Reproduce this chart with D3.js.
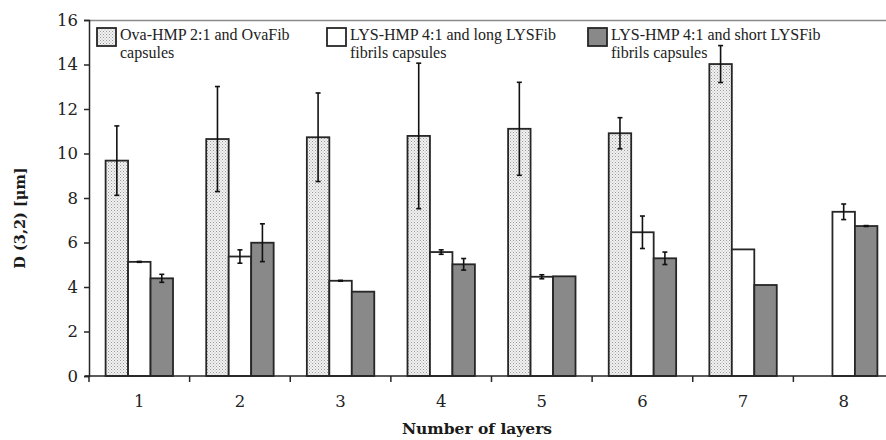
<!DOCTYPE html>
<html>
<head>
<meta charset="utf-8">
<script src="https://cdn.jsdelivr.net/npm/d3@7"></script>
<style>
  html, body { margin: 0; padding: 0; background: #fff; }
  svg { display: block; }
</style>
</head>
<body>
<svg id="chart" width="886" height="440"></svg>
<script>
// ---- Data ----
const categories = ["1", "2", "3", "4", "5", "6", "7", "8"];
const seriesNames = [
  ["Ova-HMP 2:1 and OvaFib", "capsules"],
  ["LYS-HMP 4:1 and long LYSFib", "fibrils capsules"],
  ["LYS-HMP 4:1 and short LYSFib", "fibrils capsules"]
];
const ovaValues   = [9.68, 10.65, 10.73, 10.79, 11.11, 10.91, 14.02, null];
const ovaErrors   = [1.56, 2.36, 1.99, 3.27, 2.09, 0.70, 0.83, null];
const longValues  = [5.13, 5.37, 4.28, 5.57, 4.46, 6.46, 5.69, 7.38];
const longErrors  = [0.02, 0.30, 0.02, 0.10, 0.09, 0.73, 0, 0.35];
const shortValues = [4.39, 5.99, 3.79, 5.02, 4.48, 5.29, 4.09, 6.74];
const shortErrors = [0.18, 0.85, 0, 0.26, 0, 0.28, 0, 0.02];
const yTicks = [0, 2, 4, 6, 8, 10, 12, 14, 16];
const xTitle = "Number of layers";
const yTitle = "D (3,2) [μm]";

const series = [
  { key: "ova", values: ovaValues, errors: ovaErrors },
  { key: "long", values: longValues, errors: longErrors },
  { key: "short", values: shortValues, errors: shortErrors }
];

// ---- Layout ----
const svg = d3.select("#chart");
const mLeft = 89, mRight = 894, mTop = 20, mBottom = 376;
const stroke = "#262626";

const defs = svg.append("defs");
const pat = defs.append("pattern")
  .attr("id", "dots").attr("patternUnits", "userSpaceOnUse")
  .attr("width", 3).attr("height", 3);
pat.append("rect").attr("width", 3).attr("height", 3).attr("fill", "#f2f2f2");
pat.append("rect").attr("x", 0).attr("y", 0).attr("width", 1).attr("height", 1).attr("fill", "#999");
pat.append("rect").attr("x", 1.5).attr("y", 1.5).attr("width", 1).attr("height", 1).attr("fill", "#b0b0b0");

const fills = { ova: "url(#dots)", long: "#ffffff", short: "#898989" };

const x0 = d3.scaleBand().domain(categories).range([mLeft, mRight])
  .paddingInner(0.33).paddingOuter(0.165);
const x1 = d3.scaleBand().domain(series.map(s => s.key)).range([0, x0.bandwidth()]);
const y = d3.scaleLinear().domain([0, 16]).range([mBottom, mTop]);

// top border of plot area
svg.append("line").attr("x1", mLeft).attr("x2", 886).attr("y1", mTop + 0.5).attr("y2", mTop + 0.5)
  .attr("stroke", "#8a8a8a").attr("stroke-width", 1.5);

// ---- Bars ----
const groups = svg.append("g").selectAll("g").data(series).join("g");
groups.each(function(s) {
  const g = d3.select(this);
  const data = categories.map((c, i) => ({ c, v: s.values[i], e: s.errors[i] })).filter(d => d.v != null);
  g.selectAll("rect").data(data).join("rect")
    .attr("x", d => x0(d.c) + x1(s.key))
    .attr("y", d => y(d.v))
    .attr("width", x1.bandwidth())
    .attr("height", d => y(0) - y(d.v))
    .attr("fill", fills[s.key])
    .attr("stroke", stroke).attr("stroke-width", 1.8);
});

// ---- Error bars ----
groups.each(function(s) {
  const g = d3.select(this);
  const data = categories.map((c, i) => ({ c, v: s.values[i], e: s.errors[i] })).filter(d => d.v != null && d.e > 0);
  const cx = d => x0(d.c) + x1(s.key) + x1.bandwidth() / 2;
  g.selectAll("line.v").data(data).join("line").attr("class", "v")
    .attr("x1", cx).attr("x2", cx)
    .attr("y1", d => y(d.v + d.e)).attr("y2", d => y(d.v - d.e))
    .attr("stroke", "#111").attr("stroke-width", 1.6);
  ["t", "b"].forEach(k => {
    g.selectAll("line.c" + k).data(data).join("line").attr("class", "c" + k)
      .attr("x1", d => cx(d) - 2.5).attr("x2", d => cx(d) + 2.5)
      .attr("y1", d => y(k === "t" ? d.v + d.e : d.v - d.e))
      .attr("y2", d => y(k === "t" ? d.v + d.e : d.v - d.e))
      .attr("stroke", "#111").attr("stroke-width", 1.6);
  });
});

// ---- Axes ----
const yAxis = d3.axisLeft(y).tickValues(yTicks).tickSize(5).tickPadding(6);
const gy = svg.append("g").attr("transform", `translate(${mLeft},0)`).call(yAxis);
gy.select(".domain").attr("stroke", stroke).attr("stroke-width", 1.5);
gy.selectAll(".tick line").attr("stroke", stroke).attr("stroke-width", 1.5);
gy.selectAll(".tick text").attr("font-family", "DejaVu Serif").attr("font-size", 16.5).attr("fill", "#222");

// x axis: labels at band centres, tick marks at band boundaries
const gx = svg.append("g").attr("transform", `translate(0,${mBottom})`);
gx.append("line").attr("x1", mLeft - 4).attr("x2", 886).attr("y1", 0).attr("y2", 0)
  .attr("stroke", stroke).attr("stroke-width", 1.5);
const step = x0.step();
const boundaries = categories.map(c => x0(c) - step * x0.paddingInner() / 2);
gx.selectAll("line.tk").data(boundaries).join("line").attr("class", "tk")
  .attr("x1", d => d).attr("x2", d => d).attr("y1", 0).attr("y2", 6)
  .attr("stroke", stroke).attr("stroke-width", 1.5);
gx.selectAll("text").data(categories).join("text")
  .attr("x", c => x0(c) + x0.bandwidth() / 2).attr("y", 31)
  .attr("text-anchor", "middle")
  .attr("font-family", "DejaVu Serif").attr("font-size", 16.5).attr("fill", "#222")
  .text(c => c);

// ---- Titles ----
svg.append("text").attr("x", 477).attr("y", 434).attr("text-anchor", "middle")
  .attr("font-family", "DejaVu Serif").attr("font-weight", "bold").attr("font-size", 15.5)
  .attr("fill", "#1a1a1a").text(xTitle);
svg.append("text").attr("transform", "translate(25,218) rotate(-90)").attr("text-anchor", "middle")
  .attr("font-family", "DejaVu Serif").attr("font-weight", "bold").attr("font-size", 14.5)
  .attr("fill", "#1a1a1a").text(yTitle);

// ---- Legend ----
const legendX = [97, 327, 588];
const leg = svg.append("g").selectAll("g").data(series).join("g")
  .attr("transform", (d, i) => `translate(${legendX[i]},28)`);
leg.append("rect").attr("width", 19).attr("height", 18)
  .attr("fill", d => fills[d.key]).attr("stroke", stroke).attr("stroke-width", 1.8);
leg.each(function(d, i) {
  const t = d3.select(this).append("text")
    .attr("font-family", "Liberation Serif").attr("font-size", 16).attr("fill", "#222");
  seriesNames[i].forEach((line, j) => {
    t.append("tspan").attr("x", 23).attr("y", 12 + j * 18).text(line);
  });
});
</script>
</body>
</html>
